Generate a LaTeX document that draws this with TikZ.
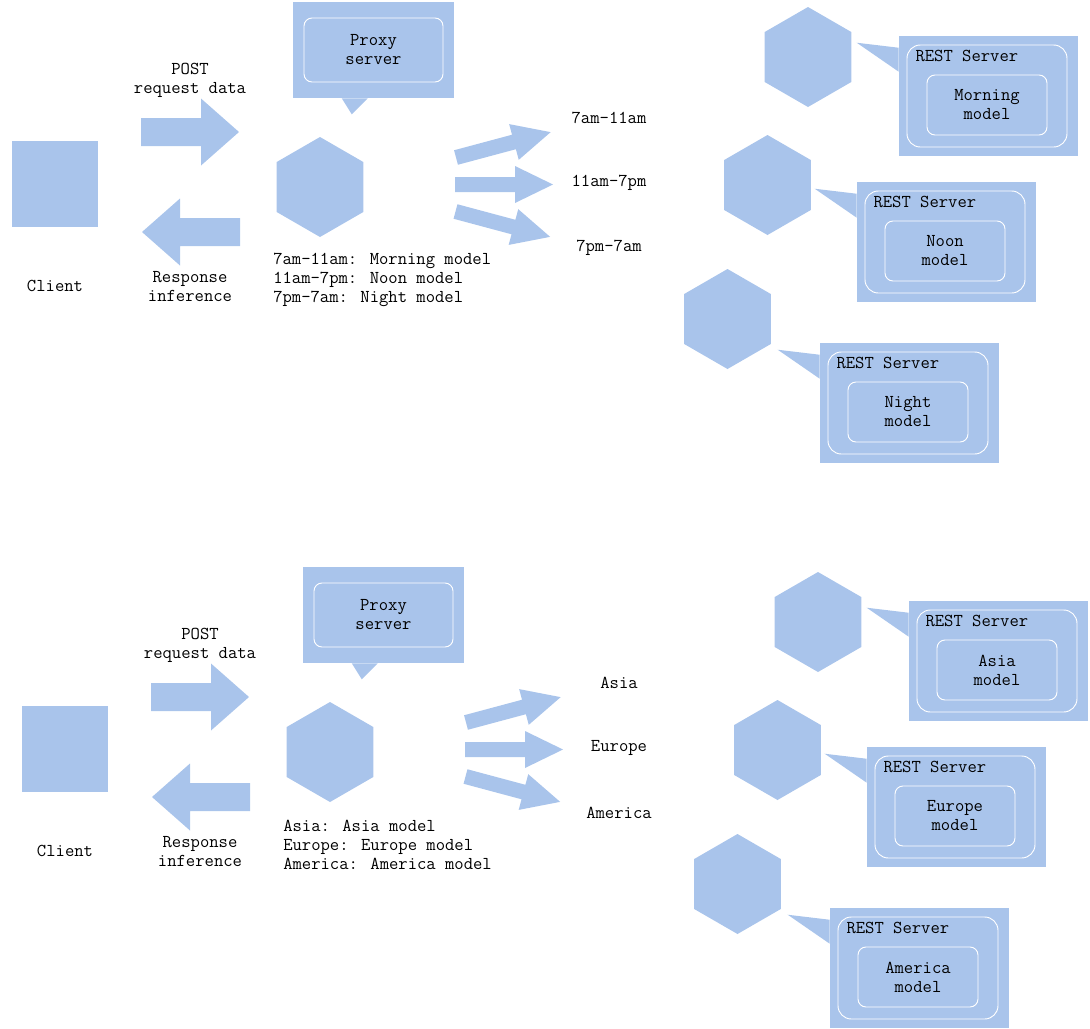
\documentclass[tikz,border=0pt]{standalone}
\usepackage{fontspec}
\usepackage{tikz}
\usetikzlibrary{shapes.geometric,positioning}
\definecolor{bluefill}{HTML}{A9C4EB}
\tikzset{
  bigarrow/.pic={\fill[bluefill] (0,-14) -- (60,-14) -- (60,-33.5) -- (98,0) -- (60,33.5) -- (60,14) -- (0,14) -- cycle;},
  smallarrow/.pic={\fill[bluefill] (0,-7.5) -- (60,-7.5) -- (60,-18.5) -- (98,0) -- (60,18.5) -- (60,7.5) -- (0,7.5) -- cycle;}
}
\newcommand\painel[9]{%
\begin{scope}[shift={(#2,#3)}]
  \node[cliente] (#1-cli) at (55,184) {};
  \node (#1-clitxt) at (55,286) {Client};
  \pic at (141,132) {bigarrow};
  \node[align=center] (#1-post) at (190,80) {POST\\request data};
  \pic[rotate=180] at (240,232) {bigarrow};
  \node[align=center] (#1-resp) at (190,287) {Response\\inference};
  \node[balao, minimum width=120.75pt, minimum height=72pt] (#1-pbox) at (373.5,50) {};
  \fill[bluefill] (#1-pbox.south west) ++(49,0) -- ++(10,16) -- ++(16,-16) -- cycle;
  \node[moldura=6pt, minimum width=104.25pt, minimum height=48pt, align=center] (#1-pin) at (#1-pbox) {Proxy\\server};
  \node[hexa] (#1-proxy) at (320,187) {};
  \node[align=left, anchor=west] (#1-leg) at (273,280) {#4: #7 model\\#5: #8 model\\#6: #9 model};
  \pic[rotate=15] at (456,157.5) {smallarrow};
  \pic at (455,184.5) {smallarrow};
  \pic[rotate=-15] at (455.5,211.5) {smallarrow};
  \node (#1-r1) at (609,118) {#4};
  \node (#1-r2) at (609,183) {#5};
  \node (#1-r3) at (609,248) {#6};
  \foreach \n/\hx/\hy/\bx/\by/\m in {1/808/57/988.5/96/#7, 2/767.5/185/946.5/242/#8, 3/727.5/319/909.5/403/#9}{
    \node[hexa] (#1-h\n) at (\hx,\hy) {};
    \node[balao, minimum width=134.25pt, minimum height=90pt] (#1-s\n) at (\bx,\by) {};
    \fill[bluefill] (#1-s\n.north west) ++(0,12) -- ++(-42,-5) -- ++(42,29) -- cycle;
    \node[moldura=10pt, minimum width=120pt, minimum height=76.5pt] (#1-f\n) at ([shift={(-1.5,0)}]#1-s\n.center) {};
    \node[anchor=west] (#1-rest\n) at ([shift={(16.5,20)}]#1-s\n.north west) {REST Server};
    \node[moldura=6pt, minimum width=90pt, minimum height=45pt, align=center] (#1-m\n) at ([shift={(-1.5,9)}]#1-s\n.center) {\m\\model};
  }
\end{scope}}
\begin{document}
\begin{tikzpicture}[x=0.75pt,y=-0.75pt, inner sep=0pt,
    font=\ttfamily\fontsize{13.6}{14.25}\selectfont,
    cliente/.style={fill=bluefill, draw=bluefill, double=white, double distance=0.75pt, line width=0.4pt, minimum size=65pt},
    balao/.style={fill=bluefill},
    moldura/.style={draw=white, line width=0.7pt, rounded corners=#1},
    hexa/.style={regular polygon, regular polygon sides=6, shape border rotate=30, fill=bluefill, minimum size=75pt}]
  \useasboundingbox (0,0) rectangle (1090,1029);
  \painel{t}{0}{0}{7am-11am}{11am-7pm}{7pm-7am}{Morning}{Noon}{Night}
  \painel{b}{10}{565}{Asia}{Europe}{America}{Asia}{Europe}{America}
\end{tikzpicture}
\end{document}
